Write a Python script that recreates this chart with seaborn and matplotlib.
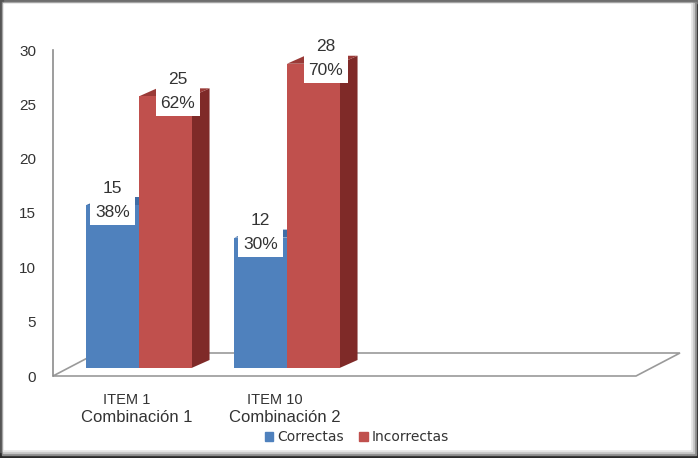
import pandas as pd
import seaborn as sns
import matplotlib.pyplot as plt
import matplotlib.transforms as mtransforms
from matplotlib.patches import Polygon, Rectangle

# datos
items = ['ITEM 1', 'ITEM 10']
combinaciones = ['Combinación 1', 'Combinación 2']
series = ['Correctas', 'Incorrectas']
correctas = [15, 12]
incorrectas = [25, 28]
pct_correctas = [38, 30]
pct_incorrectas = [62, 70]

df = pd.DataFrame({
    'item': items * 2,
    'serie': [series[0]] * 2 + [series[1]] * 2,
    'valor': correctas + incorrectas,
    'pct': pct_correctas + pct_incorrectas,
})

colores = {'Correctas': '#4F81BD', 'Incorrectas': '#C0504D'}
lados = {'Correctas': '#385D8A', 'Incorrectas': '#7F2A28'}
techos = {'Correctas': '#3F6DA6', 'Incorrectas': '#9A3A37'}

W, H = 698, 458
fig = plt.figure(figsize=(W / 100, H / 100), dpi=100)
fig.patch.set_facecolor('#2a2a2a')

# marco con sombra
def fig_rect(x0, y0, x1, y1, color):
    fig.patches.append(Rectangle((x0 / W, 1 - y1 / H), (x1 - x0) / W, (y1 - y0) / H,
                                 transform=fig.transFigure, color=color, zorder=-10))

fig_rect(0, 0, 698, 3, '#6e6e6e')
fig_rect(0, 0, 3, 452, '#555555')
fig_rect(2, 2, 696, 455, '#8a8a8a')
fig_rect(3, 3, 694, 453, '#c4c4c4')
fig_rect(3, 3, 692, 451, '#e4e4e4')
fig_rect(4, 4, 690, 449, 'white')

ax = fig.add_axes([53 / W, (H - 376) / H, (636 - 53) / W, (376 - 50) / H])
ax.set_facecolor('none')

sns.barplot(data=df, x='item', y='valor', hue='serie', palette=colores,
            width=0.71, dodge=True, saturation=1, ax=ax, legend=False)

x0_lim, x1_lim = -0.581, 3.358
ax.set_xlim(x0_lim, x1_lim)
ax.set_ylim(0, 30)

# profundidad 3D en unidades de datos
ppx = (636 - 53) / (x1_lim - x0_lim)
ppy = (376 - 50) / 30
dx, dy = 18 / ppx, 8 / ppy
shift = mtransforms.ScaledTranslation(0, 8 / 100, fig.dpi_scale_trans)
tr = ax.transData + shift

# piso
floor = Polygon([(x0_lim, 0), (x1_lim, 0), (x1_lim + 44 / ppx, 23 / ppy),
                 (x0_lim + 44 / ppx, 23 / ppy)], closed=True, facecolor='white',
                edgecolor='#9a9a9a', lw=1.2, clip_on=False, zorder=0.5)
ax.add_patch(floor)

bars = sorted(ax.patches[:-1], key=lambda p: p.get_x())
rows = df.sort_values(['item', 'serie']).reset_index(drop=True)
for i, (p, (_, r)) in enumerate(zip(bars, rows.iterrows())):
    x, w, h = p.get_x(), p.get_width(), p.get_height()
    z = 2 + i
    p.set_transform(tr)
    p.set_zorder(z + 0.5)
    p.set_edgecolor('none')
    lado = Polygon([(x + w, 0), (x + w + dx, dy), (x + w + dx, h + dy), (x + w, h)],
                   closed=True, facecolor=lados[r['serie']], edgecolor='none',
                   transform=tr, clip_on=False, zorder=z)
    techo = Polygon([(x, h), (x + w, h), (x + w + dx, h + dy), (x + dx, h + dy)],
                    closed=True, facecolor=techos[r['serie']], edgecolor='none',
                    transform=tr, clip_on=False, zorder=z)
    ax.add_patch(lado)
    ax.add_patch(techo)
    cx = x + w / 2 + (dx * 0.7 if r['serie'] == 'Incorrectas' else 0)
    ax.annotate(f"{int(r['valor'])}\n{int(r['pct'])}%", (cx, h), xycoords=tr,
                xytext=(0, 3.5), textcoords='offset points',
                ha='center', va='center', fontsize=12.5, family='Liberation Sans',
                color='#333333', linespacing=1.75, zorder=20,
                bbox=dict(facecolor='white', edgecolor='none', pad=3.5))

# ejes
for s in ['top', 'right', 'bottom']:
    ax.spines[s].set_visible(False)
ax.spines['left'].set_color('#8c8c8c')
ax.spines['left'].set_linewidth(1.2)
ax.set_yticks(range(0, 31, 5))
ax.tick_params(axis='y', length=0, pad=12, labelsize=11, labelcolor='#333333')
for t in ax.get_yticklabels():
    t.set_family('Liberation Sans')
ax.set_xticks([])
ax.set_xlabel('')
ax.set_ylabel('')

lab_tr = mtransforms.blended_transform_factory(ax.transData, fig.transFigure)
for i, (it, comb) in enumerate(zip(items, combinaciones)):
    ax.text(i - 12 / ppx, 1 - 400 / H, it, transform=lab_tr, ha='center', va='center',
            fontsize=10.5, family='Liberation Sans', color='#333333', clip_on=False)
    ax.text(i - 2 / ppx, 1 - 418 / H, comb, transform=lab_tr, ha='center', va='center',
            fontsize=12, family='Liberation Sans', color='#333333', clip_on=False)

handles = [Rectangle((0, 0), 1, 1, color=colores[s]) for s in series]
fig.legend(handles, series, loc='center', bbox_to_anchor=(357 / W, 1 - 437 / H),
           ncol=2, frameon=False, handlelength=0.6, handleheight=0.6,
           handletextpad=0.3, columnspacing=1.1,
           prop={'family': 'DejaVu Sans', 'size': 10}, labelcolor='#333333')

fig.savefig('out.png', dpi=100)
